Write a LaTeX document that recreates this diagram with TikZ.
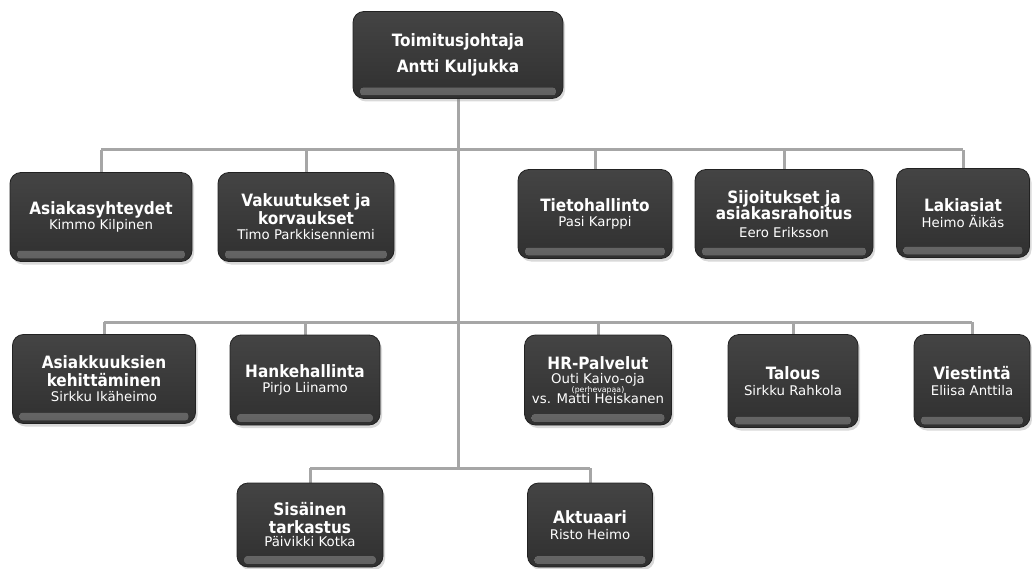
\documentclass[tikz,border=0pt]{standalone}
\usepackage{fontspec}
\usetikzlibrary{shadows,backgrounds}
\newfontfamily\orgfont{DejaVu Sans Condensed}
\newfontfamily\namefont{DejaVu Sans}
\definecolor{linegray}{HTML}{A6A6A6}
\definecolor{boxtop}{HTML}{444444}
\definecolor{boxbot}{HTML}{303030}
\definecolor{boxedge}{HTML}{222222}
\definecolor{glosstop}{HTML}{858585}
\definecolor{glossbot}{HTML}{606060}

% a person's name under a unit title
\newcommand\nm[1]{{\namefont\mdseries\fontsize{13.3}{14}\selectfont #1}}
% small note line
\newcommand\sm[1]{{\namefont\mdseries\fontsize{7.8}{8}\selectfont #1}}

\tikzset{
  conn/.style={draw=linegray, line width=3pt},
  unit/.style={draw=boxedge, line width=0.8pt, rounded corners=11pt,
    top color=boxtop, bottom color=boxbot,
    drop shadow={shadow xshift=2pt, shadow yshift=-3pt, opacity=0.3},
    text=white, align=center, inner sep=0pt,
    font=\orgfont\bfseries\fontsize{17}{17.5}\selectfont,
    path picture={\fill[top color=glosstop, bottom color=glossbot, rounded corners=3pt]
      ([xshift=7pt,yshift=3pt]path picture bounding box.south west) rectangle
      ([xshift=-7pt,yshift=11pt]path picture bounding box.south east);}},
}

% name, x, y, width, height, text
\newcommand\unitbox[6]{\node[unit, minimum width=#4, minimum height=#5] (#1) at (#2,#3) {#6};}

\begin{document}
\begin{tikzpicture}[x=1pt, y=-1pt]
\useasboundingbox (0,0) rectangle (1032,569);

% junction points on the trunk
\coordinate (j1) at (458,150);
\coordinate (j2) at (458,322);
\coordinate (j3) at (458,468);

% boxes
\unitbox{ceo}{458}{55}{210}{87}{Toimitusjohtaja\\[8pt]Antti Kuljukka}

\unitbox{a1}{101}{217}{182}{89}{Asiakasyhteydet\\[-2pt]\nm{Kimmo Kilpinen}}
\unitbox{a2}{306}{217}{176}{89}{Vakuutukset ja\\korvaukset\\[-2pt]\nm{Timo Parkkisenniemi}}
\unitbox{a3}{595}{214}{154}{89}{Tietohallinto\\[-2pt]\nm{Pasi Karppi}}
\unitbox{a4}{784}{214}{178}{89}{Sijoitukset ja\\[-1pt]asiakasrahoitus\\\nm{Eero Eriksson}}
\unitbox{a5}{963}{213}{133}{89}{Lakiasiat\\[-2pt]\nm{Heimo Äikäs}}

\unitbox{b1}{104}{379}{183}{89}{Asiakkuuksien\\kehittäminen\\[-2pt]\nm{Sirkku Ikäheimo}}
\unitbox{b2}{305}{380}{150}{90}{Hankehallinta\\[-2pt]\nm{Pirjo Liinamo}}
\unitbox{b3}{598}{380}{147}{90}{HR-Palvelut\\[-4pt]\nm{Outi Kaivo-oja}\\[-8pt]\sm{(perhevapaa)}\\[-7pt]\nm{vs. Matti Heiskanen}}
\unitbox{b4}{793}{381}{130}{93}{Talous\\[-2pt]\nm{Sirkku Rahkola}}
\unitbox{b5}{972}{381}{116}{93}{Viestintä\\[-2pt]\nm{Eliisa Anttila}}

\unitbox{c1}{310}{525}{146}{84}{Sisäinen\\tarkastus\\[-4pt]\nm{Päivikki Kotka}}
\unitbox{c2}{590}{525}{125}{84}{Aktuaari\\[-2pt]\nm{Risto Heimo}}

% connectors behind the boxes
\begin{scope}[on background layer]
  \draw[conn] (ceo.south) -- (j3);
  \draw[conn] (a1.north |- j1) -- (a5.north |- j1);
  \draw[conn] (b1.north |- j2) -- (b5.north |- j2);
  \draw[conn] (c1.north |- j3) -- (c2.north |- j3);
  \foreach \n/\j in {a1/j1,a2/j1,a3/j1,a4/j1,a5/j1,b1/j2,b2/j2,b3/j2,b4/j2,b5/j2,c1/j3,c2/j3}
    \draw[conn] (\n.north) -- (\n.north |- \j);
\end{scope}
\end{tikzpicture}
\end{document}
